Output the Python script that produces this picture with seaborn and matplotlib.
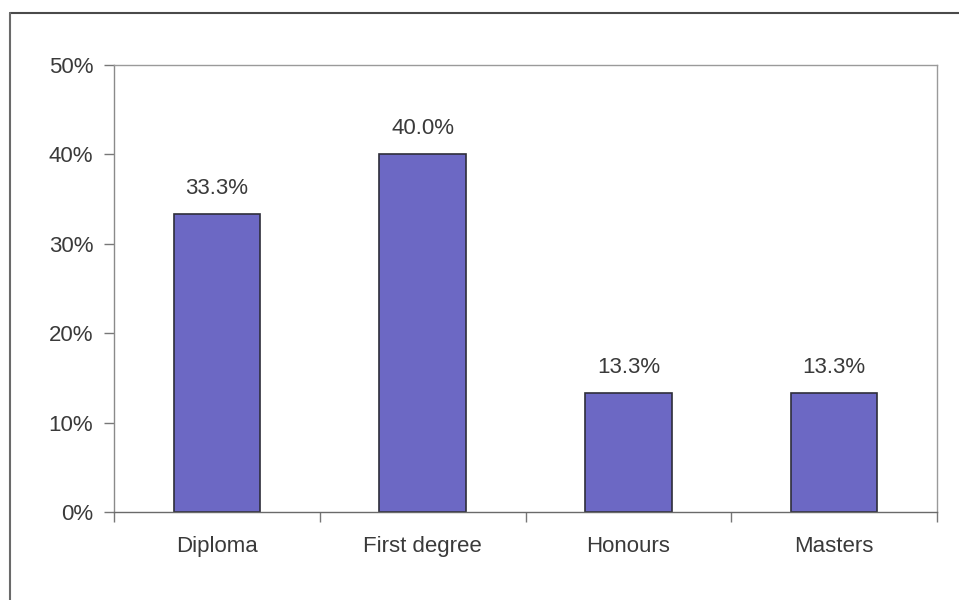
import matplotlib
matplotlib.use("Agg")
import matplotlib.pyplot as plt
import seaborn as sns
import pandas as pd
from matplotlib.lines import Line2D

# Data
categories = ["Diploma", "First degree", "Honours", "Masters"]
shares = [33.3, 40.0, 13.3, 13.3]
y_ticks = [0, 10, 20, 30, 40, 50]

df = pd.DataFrame({"qualification": categories, "share": shares})

sns.set_theme(style="white")
plt.rcParams["font.family"] = ["Liberation Sans", "DejaVu Sans"]

text_col = "#3a3a3a"
bar_col = "#6c68c4"
fs = 16

fig = plt.figure(figsize=(9.59, 6.0), dpi=100)
ax = fig.add_axes([114 / 959, 1 - 512 / 600, (937 - 114) / 959, (512 - 65) / 600])

sns.barplot(data=df, x="qualification", y="share", color=bar_col,
            width=0.42, edgecolor="#2e2e3a", linewidth=1.2, saturation=1, ax=ax)

# value labels above bars
for i, v in enumerate(shares):
    ax.annotate(f"{v:.1f}%", (i, v), xytext=(0, 11), textcoords="offset points",
                ha="center", va="bottom", fontsize=fs, color=text_col)

ax.set_xlim(-0.5, len(categories) - 0.5)
ax.set_ylim(0, 50)
ax.set_yticks(y_ticks)
ax.set_yticklabels([f"{t}%" for t in y_ticks], fontsize=fs, color=text_col)

# Excel-style: ticks between categories, labels at centres
ax.set_xticks([i - 0.5 for i in range(len(categories) + 1)])
ax.set_xticklabels([""] * (len(categories) + 1))
ax.set_xticks(range(len(categories)), minor=True)
ax.set_xticklabels(categories, minor=True, fontsize=fs, color=text_col)
ax.tick_params(axis="x", which="minor", length=0, pad=17)
ax.tick_params(axis="x", which="major", direction="out", length=7,
               color="#777777", width=1, bottom=True)
ax.tick_params(axis="y", direction="out", length=7, color="#777777",
               width=1, pad=8, left=True)

ax.set_xlabel("")
ax.set_ylabel("")

for side in ["top", "right"]:
    ax.spines[side].set_visible(True)
    ax.spines[side].set_color("#9a9a9a")
    ax.spines[side].set_linewidth(1.0)
ax.spines["left"].set_color("#8a8a8a")
ax.spines["left"].set_linewidth(1.0)
ax.spines["bottom"].set_color("#6a6a6a")
ax.spines["bottom"].set_linewidth(1.0)

# outer chart frame (top and left edges visible in the scan)
fig.add_artist(Line2D([10 / 959, 1.0], [1 - 13 / 600, 1 - 13 / 600],
                      transform=fig.transFigure, color="#4a4a4a", lw=1.5))
fig.add_artist(Line2D([10 / 959, 10 / 959], [0.0, 1 - 13 / 600],
                      transform=fig.transFigure, color="#6a6a6a", lw=1.5))

fig.savefig("out.png", dpi=100)
